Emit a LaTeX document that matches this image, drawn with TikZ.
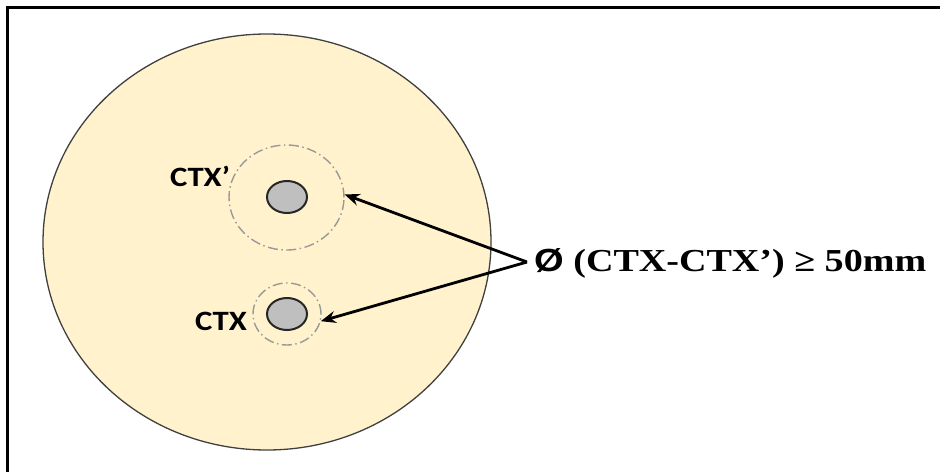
\documentclass[tikz,border=0pt]{standalone}
\usepackage{fontspec}
\setmainfont{Liberation Serif}
\newfontfamily\lblfont{Carlito}
\newfontfamily\symfont{Liberation Sans}
\usetikzlibrary{shapes.geometric,arrows.meta}
\definecolor{diskfill}{HTML}{FFF2CC}
\definecolor{diskline}{HTML}{404040}
\definecolor{holefill}{HTML}{BFBFBF}
\definecolor{holeline}{HTML}{262626}
\definecolor{ringline}{HTML}{999999}
\tikzset{
  hole/.style={ellipse, draw=holeline, fill=holefill, line width=2pt, minimum width=40pt, minimum height=32pt, inner sep=0pt},
  ring/.style={ellipse, draw=ringline, line width=1.4pt, dash pattern=on 10pt off 3.5pt on 1.5pt off 3.5pt, inner sep=0pt},
  lbl/.style={font=\lblfont\bfseries\fontsize{28}{32}\selectfont, inner sep=0pt},
  arr/.style={line width=2.8pt, -{Stealth[length=15pt,width=12pt]}}
}
\begin{document}
\begin{tikzpicture}[x=1pt,y=-1pt]
\fill[white] (0,0) rectangle (940,472);
\useasboundingbox (0,0) rectangle (940,472);
\draw[line width=2.4pt] (7.5,472) -- (7.5,7.5) -- (940,7.5);
\node[ellipse, draw=diskline, fill=diskfill, line width=1.3pt, minimum width=448pt, minimum height=416pt, inner sep=0pt] (plate) at (267,242) {};
\node[ring, minimum width=115pt, minimum height=105pt] (ringp) at (286.5,197.5) {};
\node[ring, minimum width=68pt, minimum height=62pt] (ringc) at (287,314) {};
\node[hole] (holep) at (287,197) {};
\node[hole] (holec) at (287,314) {};
\node[lbl] (lblp) at (200,176) {\scalebox{1.17}[1]{CTX’}};
\node[lbl] (lblc) at (221,321) {\scalebox{1.17}[1]{CTX}};
\node[anchor=base west, inner sep=0pt, font=\bfseries\fontsize{32}{36}\selectfont] (eq) at (534,271) {\scalebox{1.19}[1]{{\symfont Ø} (CTX-CTX’) ≥ 50mm}};
\coordinate (apex) at (527,262);
\draw[arr] (apex) -- (ringp.3);
\draw[arr] (apex) -- (ringc.-12);
\end{tikzpicture}
\end{document}
